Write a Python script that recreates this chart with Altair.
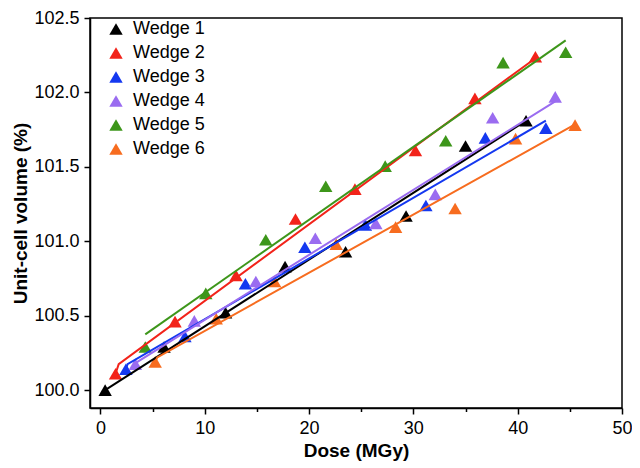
import altair as alt
import pandas as pd

wedges = ["Wedge 1", "Wedge 2", "Wedge 3", "Wedge 4", "Wedge 5", "Wedge 6"]
colors = ["#000000", "#f2231a", "#1438f0", "#9a6cf0", "#3d961a", "#f76c1f"]

dose_w1 = [0.45, 6.1, 12.0, 17.7, 23.5, 29.3, 35.0, 40.8]
vol_w1 = [100.0, 100.29, 100.52, 100.83, 100.93, 101.17, 101.64, 101.81]
dose_w2 = [1.45, 7.15, 13.0, 18.7, 24.4, 30.2, 35.9, 41.7]
vol_w2 = [100.11, 100.46, 100.77, 101.15, 101.35, 101.61, 101.96, 102.24]
dose_w3 = [2.44, 8.1, 13.9, 19.6, 25.4, 31.2, 36.9, 42.7]
vol_w3 = [100.14, 100.36, 100.715, 100.96, 101.11, 101.24, 101.695, 101.76]
dose_w4 = [3.35, 9.0, 14.9, 20.6, 26.4, 32.1, 37.6, 43.6]
vol_w4 = [100.175, 100.465, 100.73, 101.02, 101.12, 101.315, 101.83, 101.97]
dose_w5 = [4.3, 10.1, 15.85, 21.6, 27.3, 33.1, 38.6, 44.6]
vol_w5 = [100.29, 100.65, 101.01, 101.37, 101.505, 101.675, 102.2, 102.27]
dose_w6 = [5.25, 11.1, 16.7, 22.6, 28.3, 34.0, 39.8, 45.5]
vol_w6 = [100.19, 100.48, 100.73, 100.98, 101.095, 101.22, 101.69, 101.78]

fit_x_w1 = [0.45, 40.8]
fit_y_w1 = [100.0, 101.81]
fit_x_w2 = [1.45, 1.75, 41.7]
fit_y_w2 = [100.11, 100.175, 102.23]
fit_x_w3 = [2.44, 2.6, 42.7]
fit_y_w3 = [100.14, 100.175, 101.81]
fit_x_w4 = [3.35, 3.55, 43.6]
fit_y_w4 = [100.175, 100.19, 101.94]
fit_x_w5 = [4.3, 44.6]
fit_y_w5 = [100.375, 102.35]
fit_x_w6 = [5.25, 5.45, 45.5]
fit_y_w6 = [100.19, 100.22, 101.785]

x_ticks = [0, 5, 10, 15, 20, 25, 30, 35, 40, 45, 50]
y_ticks = [100.0, 100.25, 100.5, 100.75, 101.0, 101.25, 101.5, 101.75, 102.0, 102.25, 102.5]

doses = [dose_w1, dose_w2, dose_w3, dose_w4, dose_w5, dose_w6]
vols = [vol_w1, vol_w2, vol_w3, vol_w4, vol_w5, vol_w6]
fxs = [fit_x_w1, fit_x_w2, fit_x_w3, fit_x_w4, fit_x_w5, fit_x_w6]
fys = [fit_y_w1, fit_y_w2, fit_y_w3, fit_y_w4, fit_y_w5, fit_y_w6]

pts = []
for w, d, v in zip(wedges, doses, vols):
    for a, b in zip(d, v):
        pts.append({"wedge": w, "dose": a, "vol": b})
pts = pd.DataFrame(pts)

fits = []
for w, fx, fy in zip(wedges, fxs, fys):
    for i, (a, b) in enumerate(zip(fx, fy)):
        fits.append({"wedge": w, "dose": a, "vol": b, "ord": i})
fits = pd.DataFrame(fits)

FONT = "Liberation Sans"

xscale = alt.Scale(domain=[-1, 50], nice=False, zero=False)
yscale = alt.Scale(domain=[99.88, 102.5], nice=False, zero=False)

xaxis = alt.Axis(
    values=x_ticks, title="Dose (MGy)", grid=False,
    labelExpr="datum.value % 10 === 0 ? datum.label : ''",
    tickSize={"condition": {"test": "datum.value % 10 === 0", "value": 6}, "value": 3.5},
    labelOverlap=False, labelFlush=False, labelPadding=5, titlePadding=4,
)
yaxis = alt.Axis(
    values=y_ticks, title="Unit-cell volume (%)", grid=False, format=".1f",
    labelExpr="datum.value % 0.5 === 0 ? datum.label : ''",
    tickSize={"condition": {"test": "datum.value % 0.5 === 0", "value": 6}, "value": 3.5},
    labelOverlap=False, labelFlush=False, labelPadding=5, titlePadding=3,
)

color_pts = alt.Color(
    "wedge:N",
    scale=alt.Scale(domain=wedges, range=colors),
    legend=alt.Legend(
        title=None, orient="none", legendX=17, legendY=2,
        symbolType="triangle-up", symbolSize=180, symbolStrokeWidth=0,
        labelFontSize=18, labelFont=FONT, rowPadding=6, padding=0,
        labelOffset=8,
    ),
)

points = alt.Chart(pts).mark_point(
    shape="triangle-up", filled=True, opacity=1, size=180
).encode(
    x=alt.X("dose:Q", scale=xscale, axis=xaxis),
    y=alt.Y("vol:Q", scale=yscale, axis=yaxis),
    color=color_pts,
)

lines = alt.Chart(fits).mark_line(strokeWidth=2).encode(
    x=alt.X("dose:Q", scale=xscale),
    y=alt.Y("vol:Q", scale=yscale),
    color=alt.Color("wedge:N", scale=alt.Scale(domain=wedges, range=colors), legend=None),
    order="ord:Q",
)

chart = alt.layer(points, lines).resolve_scale(color="independent").properties(
    width=532, height=390,
    autosize=alt.AutoSizeParams(type="none"),
    padding={"left": 82, "top": 10, "right": 10, "bottom": 56},
).configure_view(
    stroke="black", strokeWidth=1.5
).configure_axis(
    domainColor="black", domainWidth=1.5, tickColor="black", tickWidth=1.5,
    labelFont=FONT, labelFontSize=18, labelColor="black",
    titleFont=FONT, titleFontSize=19, titleFontWeight="bold", titleColor="black",
)

chart.save("out.html", embed_options={"renderer": "svg", "actions": False})
